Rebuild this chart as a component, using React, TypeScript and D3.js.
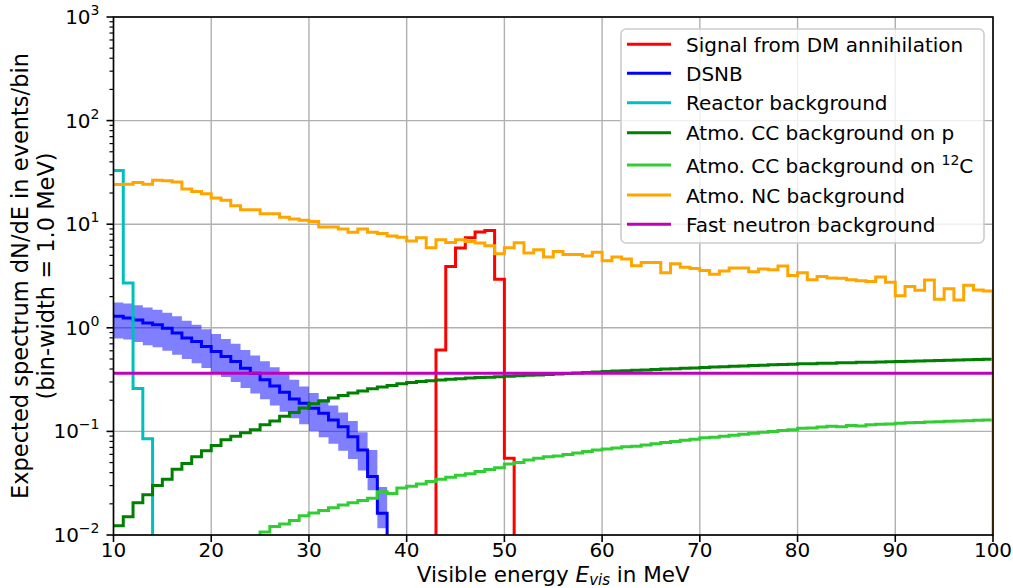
import React from 'react';
import * as d3 from 'd3';

// ---------------- data (1 MeV bins, value = events/bin) ----------------
const xTicks = [10, 20, 30, 40, 50, 60, 70, 80, 90, 100];
const yDecades = [-2, -1, 0, 1, 2, 3];

// Signal from DM annihilation, bins starting at 43 MeV
const signalStart = 43;
const signalValues = [0.61, 3.9, 5.9, 7.4, 8.4, 8.7, 2.95, 0.055];

// DSNB, bins starting at 10 MeV
const dsnbStart = 10;
const dsnbValues = [1.29, 1.24, 1.19, 1.11, 1.07, 0.99, 0.89, 0.795, 0.738, 0.66,
  0.59, 0.528, 0.472, 0.407, 0.365, 0.315, 0.275, 0.239, 0.206, 0.187,
  0.167, 0.15, 0.129, 0.111, 0.089, 0.066, 0.0366, 0.0162];
const dsnbHigh = [1.75, 1.72, 1.65, 1.57, 1.49, 1.40, 1.29, 1.17, 1.07, 0.97,
  0.87, 0.78, 0.70, 0.61, 0.54, 0.475, 0.415, 0.36, 0.315, 0.272,
  0.235, 0.205, 0.178, 0.152, 0.126, 0.098, 0.066, 0.029];
const dsnbLow = [0.79, 0.77, 0.73, 0.68, 0.65, 0.60, 0.55, 0.50, 0.455, 0.41,
  0.37, 0.335, 0.30, 0.262, 0.232, 0.204, 0.178, 0.155, 0.134, 0.117,
  0.101, 0.088, 0.076, 0.065, 0.054, 0.042, 0.027, 0.0116];

// Reactor background, bins starting at 10 MeV
const reactorStart = 10;
const reactorValues = [33, 2.7, 0.26, 0.085];

// Atmo. CC on p, bins 10..99
const ccPStart = 10;
const ccPValues = [
  0.0123, 0.015, 0.0205, 0.0245, 0.03, 0.0345, 0.043, 0.049, 0.057, 0.065,
  0.073, 0.083, 0.09, 0.097, 0.104, 0.116, 0.126, 0.14, 0.152, 0.168,
  0.185, 0.197, 0.21, 0.222, 0.235, 0.246, 0.258, 0.268, 0.278, 0.288,
  0.297, 0.303, 0.309, 0.314, 0.319, 0.323, 0.327, 0.331, 0.334, 0.337,
  0.341, 0.344, 0.348, 0.351, 0.355, 0.358, 0.362, 0.366, 0.37, 0.374,
  0.378, 0.382, 0.385, 0.389, 0.392, 0.396, 0.4, 0.403, 0.407, 0.41,
  0.414, 0.418, 0.421, 0.425, 0.428, 0.432, 0.435, 0.439, 0.442, 0.446,
  0.449, 0.451, 0.454, 0.456, 0.459, 0.461, 0.464, 0.466, 0.468, 0.471,
  0.473, 0.476, 0.478, 0.481, 0.483, 0.486, 0.488, 0.491, 0.493, 0.496];

// Atmo. CC on 12C, bins 25..99 (below 1e-2 before)
const cc12CStart = 25;
const cc12CValues = [
  0.0107, 0.0121, 0.0128, 0.0138, 0.0153,
  0.0163, 0.0172, 0.0183, 0.0195, 0.0205, 0.0215, 0.0226, 0.0262, 0.0252, 0.0285,
  0.0295, 0.031, 0.0328, 0.0345, 0.036, 0.0378, 0.039, 0.041, 0.0428, 0.0445,
  0.0485, 0.05, 0.053, 0.055, 0.057, 0.058, 0.06, 0.062, 0.064, 0.066,
  0.0675, 0.069, 0.071, 0.072, 0.074, 0.076, 0.078, 0.08, 0.082, 0.084,
  0.087, 0.088, 0.09, 0.092, 0.094, 0.096, 0.098, 0.1, 0.102, 0.104,
  0.107, 0.108, 0.11, 0.112, 0.111, 0.114, 0.113, 0.116, 0.117, 0.118,
  0.12, 0.121, 0.122, 0.123, 0.124, 0.125, 0.126, 0.127, 0.128, 0.129];

// Atmo. NC, bins 10..99
const ncStart = 10;
const ncValues = [
  24.1, 24.3, 25.2, 24.3, 26.5, 26.2, 25.6, 21.9, 20.7, 19.7,
  17.9, 17.0, 15.1, 13.8, 13.8, 12.6, 12.6, 11.7, 11.2, 10.9,
  10.6, 9.4, 9.4, 8.98, 8.34, 8.98, 8.34, 8.15, 7.68, 7.5,
  6.88, 7.4, 5.93, 7.09, 6.67, 7.08, 6.82, 6.57, 6.19, 5.19,
  5.93, 6.62, 5.27, 5.67, 4.82, 5.46, 5.1, 5.1, 4.92, 5.36,
  4.45, 4.82, 4.62, 3.97, 4.28, 4.28, 3.4, 4.16, 3.85, 3.73,
  3.58, 3.28, 3.54, 3.77, 3.77, 3.47, 3.69, 3.63, 3.95, 3.2,
  3.4, 2.91, 3.13, 3.03, 3.0, 2.91, 2.85, 2.8, 3.1, 2.75,
  2.04, 2.5, 2.3, 2.89, 1.89, 2.38, 1.86, 2.58, 2.32, 2.27];

// Fast neutron background, bins 10..99
const fastStart = 10;
const fastValues = [
  0.365, 0.365, 0.365, 0.365, 0.365, 0.365, 0.365, 0.365, 0.365, 0.365,
  0.365, 0.365, 0.365, 0.365, 0.365, 0.365, 0.365, 0.365, 0.365, 0.365,
  0.365, 0.365, 0.365, 0.365, 0.365, 0.365, 0.365, 0.365, 0.365, 0.365,
  0.365, 0.365, 0.365, 0.365, 0.365, 0.365, 0.365, 0.365, 0.365, 0.365,
  0.365, 0.365, 0.365, 0.365, 0.365, 0.365, 0.365, 0.365, 0.365, 0.365,
  0.365, 0.365, 0.365, 0.365, 0.365, 0.365, 0.365, 0.365, 0.365, 0.365,
  0.365, 0.365, 0.365, 0.365, 0.365, 0.365, 0.365, 0.365, 0.365, 0.365,
  0.365, 0.365, 0.365, 0.365, 0.365, 0.365, 0.365, 0.365, 0.365, 0.365,
  0.365, 0.365, 0.365, 0.365, 0.365, 0.365, 0.365, 0.365, 0.365, 0.365];

// ---------------- layout ----------------
const W = 1013, H = 588;
const PL = 113.5, PR = 993, PT = 17, PB = 535;
const FONT = "'DejaVu Sans', 'Liberation Sans', sans-serif";
const FS = 20;
const FL = 21.5;

type Pt = [number, number];

function steps(start: number, vals: number[], riseStart: boolean, dropEnd: boolean): Pt[] {
  const p: Pt[] = [];
  if (riseStart) p.push([start, 0]);
  vals.forEach((v, i) => p.push([start + i, v]));
  p.push([start + vals.length, vals[vals.length - 1]]);
  if (dropEnd) p.push([start + vals.length, 0]);
  return p;
}

export default function App() {
  const x = d3.scaleLinear().domain([10, 100]).range([PL, PR]);
  const y = d3.scaleLog().domain([1e-2, 1e3]).range([PB, PT]);
  const FLOOR = 1e-4;
  const line = d3.line<Pt>()
    .x(d => x(d[0]))
    .y(d => y(Math.max(d[1], FLOOR)))
    .curve(d3.curveStepAfter);

  const bandPts: [number, number, number][] = dsnbValues.map((_, i) => [dsnbStart + i, dsnbLow[i], dsnbHigh[i]]);
  bandPts.push([dsnbStart + dsnbValues.length, dsnbLow[dsnbLow.length - 1], dsnbHigh[dsnbHigh.length - 1]]);
  const band = d3.area<[number, number, number]>()
    .x(d => x(d[0]))
    .y0(d => y(d[1]))
    .y1(d => y(d[2]))
    .curve(d3.curveStepAfter);

  const series = [
    { label: 'Signal from DM annihilation', color: '#ff0000', pts: steps(signalStart, signalValues, true, true) },
    { label: 'DSNB', color: '#0000ff', pts: steps(dsnbStart, dsnbValues, false, true) },
    { label: 'Reactor background', color: '#00bfbf', pts: steps(reactorStart, reactorValues, false, true) },
    { label: 'Atmo. CC background on p', color: '#008000', pts: steps(ccPStart, ccPValues, false, false) },
    { label: 'CC12C', color: '#32cd32', pts: steps(cc12CStart, cc12CValues, true, false) },
    { label: 'Atmo. NC background', color: '#ffa500', pts: steps(ncStart, ncValues, false, true) },
    { label: 'Fast neutron background', color: '#bf00bf', pts: steps(fastStart, fastValues, false, false) },
  ];

  const minorTicks: number[] = [];
  for (let k = -2; k < 3; k++) for (let m = 2; m <= 9; m++) minorTicks.push(m * Math.pow(10, k));

  const legendRows = [44.3, 73.3, 102.7, 132.7, 165, 195, 224.3];
  const LX0 = 627, LX1 = 671, LTX = 686;

  const expLabel = (e: number) => (e < 0 ? '\u2212' + Math.abs(e) : String(e));

  return (
    <svg width={W} height={H} style={{ position: 'absolute', left: 0, top: 0, background: '#fff' }}
      fontFamily={FONT}>
      <defs>
        <clipPath id="plotclip">
          <rect x={PL} y={PT} width={PR - PL} height={PB - PT} />
        </clipPath>
      </defs>
      <rect x={0} y={0} width={W} height={H} fill="#fff" />
      {/* grid */}
      <g stroke="#b0b0b0" strokeWidth={1.4}>
        {xTicks.map(t => <line key={'gx' + t} x1={x(t)} x2={x(t)} y1={PT} y2={PB} />)}
        {yDecades.map(e => <line key={'gy' + e} x1={PL} x2={PR} y1={y(Math.pow(10, e))} y2={y(Math.pow(10, e))} />)}
      </g>
      {/* data */}
      <g clipPath="url(#plotclip)">
        <path d={band(bandPts) || ''} fill="#0000ff" fillOpacity={0.5} stroke="none" />
        {series.map(s => (
          <path key={s.label} d={line(s.pts) || ''} fill="none" stroke={s.color} strokeWidth={3}
            strokeLinejoin="miter" strokeLinecap="butt" />
        ))}
      </g>
      {/* spines */}
      <rect x={PL} y={PT} width={PR - PL} height={PB - PT} fill="none" stroke="#000" strokeWidth={1.6} />
      {/* x ticks */}
      <g>
        {xTicks.map(t => (
          <g key={'xt' + t}>
            <line x1={x(t)} x2={x(t)} y1={PB} y2={PB + 7} stroke="#000" strokeWidth={1.6} />
            <text x={x(t)} y={557} textAnchor="middle" fontSize={FS} fill="#000">{t}</text>
          </g>
        ))}
      </g>
      {/* y ticks */}
      <g>
        {minorTicks.map(v => (
          <line key={'ym' + v} x1={PL - 4} x2={PL} y1={y(v)} y2={y(v)} stroke="#000" strokeWidth={1.2} />
        ))}
        {yDecades.map(e => (
          <g key={'yt' + e}>
            <line x1={PL - 7} x2={PL} y1={y(Math.pow(10, e))} y2={y(Math.pow(10, e))} stroke="#000" strokeWidth={1.6} />
            <text x={PL - 14} y={y(Math.pow(10, e)) + 7} textAnchor="end" fontSize={FS} fill="#000">
              10<tspan fontSize={14} dy={-9}>{expLabel(e)}</tspan>
            </text>
          </g>
        ))}
      </g>
      {/* axis labels */}
      <text x={(PL + PR) / 2} y={582} textAnchor="middle" fontSize={FL} fill="#000">
        Visible energy <tspan fontStyle="italic">E</tspan><tspan fontStyle="italic" fontSize={15} dy={3}>vis</tspan><tspan dy={-3}> in MeV</tspan>
      </text>
      <text transform={`translate(28,${(PT + PB) / 2}) rotate(-90)`} textAnchor="middle" fontSize={22.5} fill="#000">
        Expected spectrum dN/dE in events/bin
      </text>
      <text transform={`translate(54,${(PT + PB) / 2}) rotate(-90)`} textAnchor="middle" fontSize={22.5} fill="#000">
        (bin-width = 1.0 MeV)
      </text>
      {/* legend */}
      <g>
        <rect x={621} y={29} width={363} height={214} rx={5} ry={5} fill="#fff" fillOpacity={0.8}
          stroke="#cccccc" strokeWidth={1.6} />
        {series.map((s, i) => (
          <g key={'lg' + i}>
            <line x1={LX0} x2={LX1} y1={legendRows[i]} y2={legendRows[i]} stroke={s.color} strokeWidth={3} />
            <text x={LTX} y={legendRows[i] + 7.5} fontSize={FS} fill="#000">
              {s.label === 'CC12C'
                ? <>Atmo. CC background on <tspan fontSize={14} dy={-8}>12</tspan><tspan dy={8}>C</tspan></>
                : s.label}
            </text>
          </g>
        ))}
      </g>
    </svg>
  );
}
